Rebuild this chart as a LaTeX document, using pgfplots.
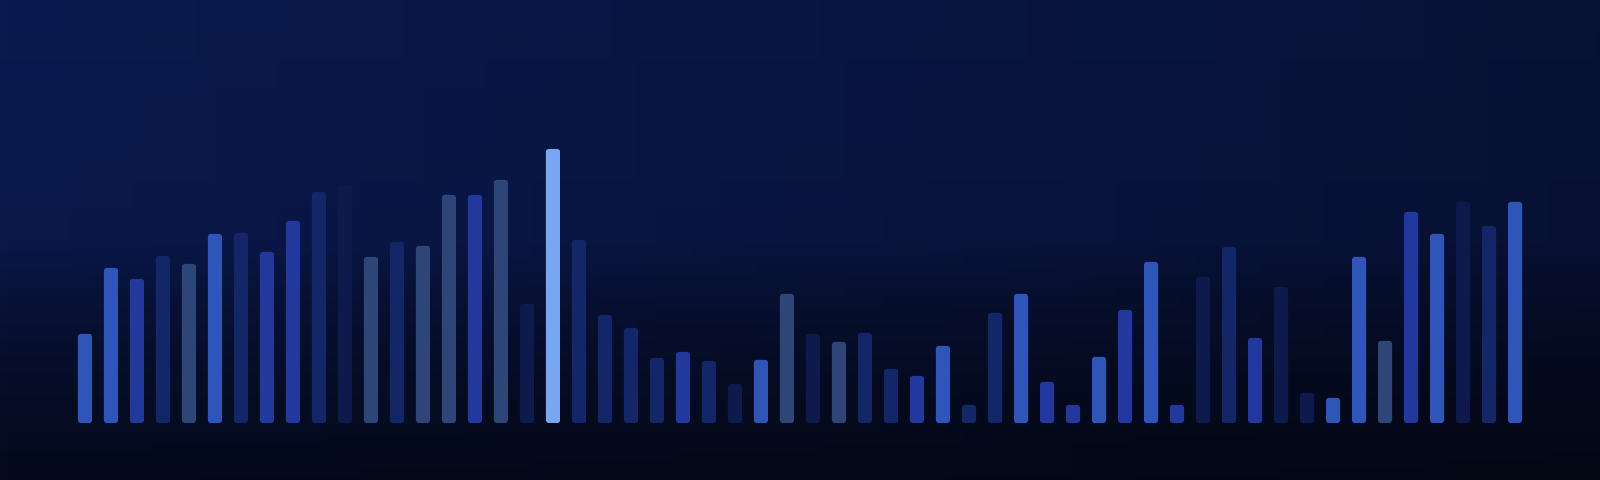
\documentclass[border=0pt]{standalone}
\usepackage{pgfplots}
\pgfplotsset{compat=1.18}
\usetikzlibrary{fadings}
\definecolor{cbright}{HTML}{2F55B9}
\definecolor{croyal}{HTML}{22389C}
\definecolor{cnavy}{HTML}{132668}
\definecolor{cslate}{HTML}{2E4578}
\definecolor{cvdark}{HTML}{0E1A4B}
\definecolor{clight}{HTML}{79A6F2}
\definecolor{s0}{HTML}{050A1C}
\definecolor{s1}{HTML}{060D28}
\definecolor{s2}{HTML}{081238}
\definecolor{s3}{HTML}{0A184A}
\definecolor{s4}{HTML}{0A1A4E}
\pgfdeclareverticalshading{bgshade}{100bp}{color(0bp)=(s0); color(25bp)=(s0); color(35.4bp)=(s1); color(43.75bp)=(s2); color(50bp)=(s3); color(75bp)=(s4); color(100bp)=(s4)}
\tikzfading[name=fadetoright, left color=transparent!100, right color=transparent!0]
\begin{document}
\begin{tikzpicture}
\shade[shading=bgshade] (0,0) rectangle (16,4.8);
\fill[black, fill opacity=0.3, path fading=fadetoright] (0,0) rectangle (16,4.8);
\begin{axis}[
  at={(0,0)}, anchor=south west,
  scale only axis, width=16cm, height=4.8cm,
  xmin=-2.269, xmax=59.27, ymin=-57, ymax=423,
  hide axis, clip=false,
  ybar, bar width=0.14cm, bar shift=0pt,
  every axis plot/.append style={draw=none, rounded corners=0.7pt},
]
% bright
\addplot[fill=cbright] coordinates {(1,89) (2,155) (6,189) (27,63) (34,77) (37,129) (40,66) (42,161) (49,25) (50,166) (53,189) (56,221)};
% royal
\addplot[fill=croyal] coordinates {(3,144) (8,171) (9,202) (16,228) (24,71) (33,47) (38,41) (39,18) (41,113) (43,18) (46,85) (52,211)};
% navy
\addplot[fill=cnavy] coordinates {(4,167) (7,190) (10,231) (13,181) (20,183) (21,108) (22,95) (23,65) (25,62) (31,90) (32,54) (35,18) (36,110) (45,176) (55,197)};
% slate
\addplot[fill=cslate] coordinates {(5,159) (12,166) (14,177) (15,228) (17,243) (28,129) (30,81) (51,82)};
% very dark
\addplot[fill=cvdark] coordinates {(11,238) (18,119) (26,39) (29,89) (44,146) (47,136) (48,30) (54,221)};
% light
\addplot[fill=clight] coordinates {(19,274)};
\end{axis}
\end{tikzpicture}
\end{document}
